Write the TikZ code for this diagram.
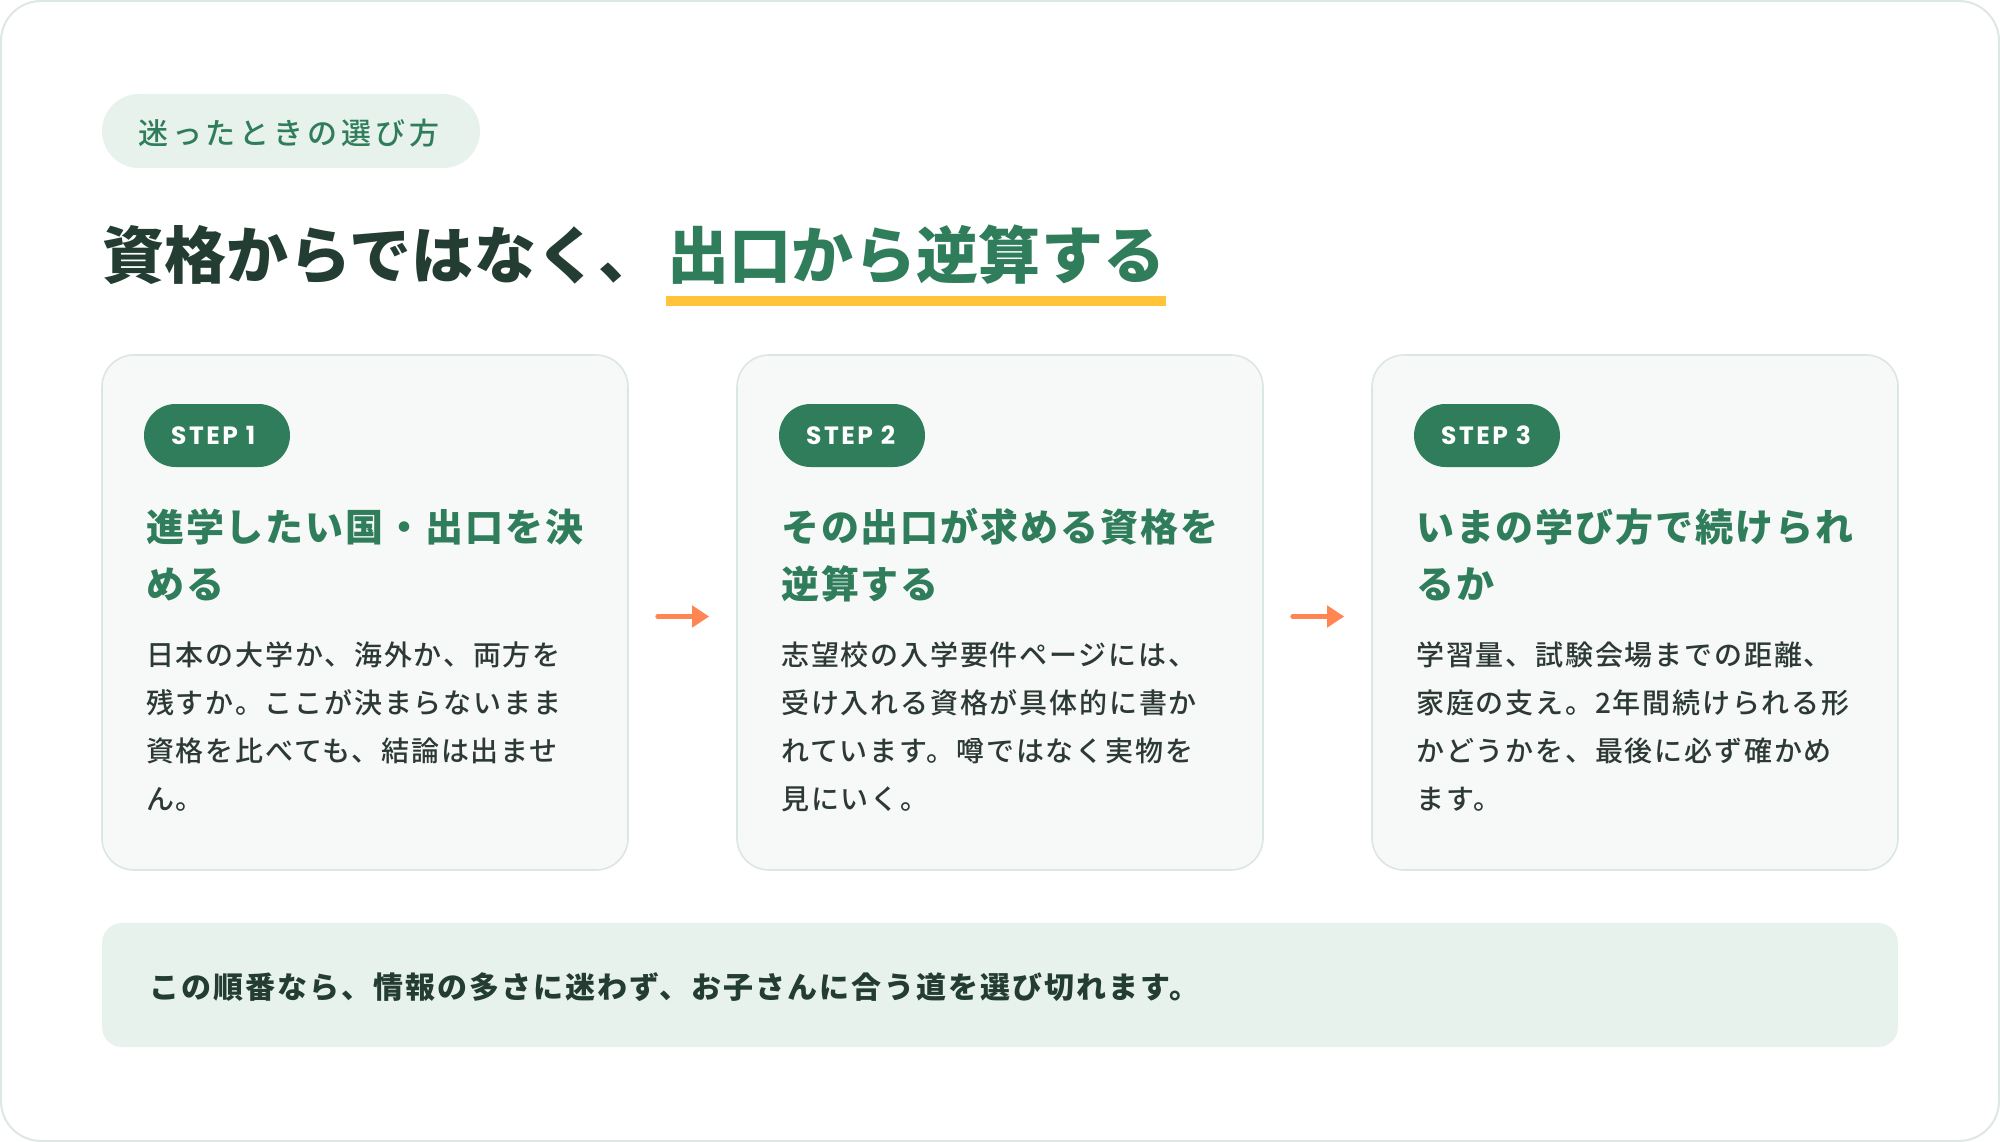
\documentclass[tikz,border=0pt]{standalone}
\usepackage{fontspec}
\usetikzlibrary{arrows.meta}
\setmainfont{Noto Sans CJK JP}
\newfontfamily\jpTag[LetterSpace=13]{Noto Sans CJK JP Medium}
\newfontfamily\jpTitle[LetterSpace=0.5]{Noto Sans CJK JP}
\newfontfamily\jpHead[LetterSpace=5]{Noto Sans CJK JP}
\newfontfamily\jpBody[LetterSpace=6.5]{Noto Sans CJK JP Medium}
\newfontfamily\jpBanner[LetterSpace=6.8]{Noto Sans CJK JP}
\newfontfamily\stepfont[LetterSpace=10]{Poppins}
\definecolor{frameline}{HTML}{DDE8E4}
\definecolor{paleg}{HTML}{E8F2EC}
\definecolor{maing}{HTML}{2F7D5B}
\definecolor{darkt}{HTML}{233D33}
\definecolor{bodyt}{HTML}{2D3A34}
\definecolor{hilite}{HTML}{FFC43A}
\definecolor{cardfill}{HTML}{F7F9F8}
\definecolor{cardline}{HTML}{DCE6E2}
\definecolor{arrowc}{HTML}{FF8552}
\tikzset{
  cardbox/.style={draw=cardline, line width=1.6pt, fill=cardfill, rounded corners=32pt,
    minimum width=526pt, minimum height=515pt, inner sep=0pt},
  steppill/.style={fill=maing, rounded corners=31.5pt, minimum width=146pt,
    minimum height=63pt, inner sep=0pt},
  steptext/.style={anchor=base west, inner sep=0pt, text=white,
    font=\stepfont\bfseries\fontsize{25}{25}\selectfont},
  headtext/.style={anchor=base west, inner sep=0pt, text=maing,
    font=\jpHead\bfseries\fontsize{38}{38}\selectfont},
  bodytext/.style={anchor=base west, inner sep=0pt, text=bodyt,
    font=\jpBody\fontsize{28}{28}\selectfont},
  flowarrow/.style={draw=arrowc, line width=5pt, line cap=round,
    -{Triangle[length=17pt,width=21pt]}, shorten <=29pt, shorten >=27pt}
}
\begin{document}
\begin{tikzpicture}[x=1pt,y=-1pt]
\useasboundingbox (0,0) rectangle (2000,1142);
\fill[white] (0,0) rectangle (2000,1142);
\draw[frameline, line width=2pt, rounded corners=40pt] (1,1) rectangle (1999,1141);

% tag
\node[fill=paleg, rounded corners=37pt, minimum width=378pt, minimum height=74pt, inner sep=0pt] (tag) at (291,131) {};
\node[anchor=base west, inner sep=0pt, text=maing, font=\jpTag\fontsize{30}{30}\selectfont] (tagtext) at (138,144.5) {迷ったときの選び方};

% title
\node[anchor=base west, inner sep=0pt, text=darkt, font=\jpTitle\bfseries\fontsize{62}{62}\selectfont] (title1) at (102,278) {資格からではなく、};
\fill[hilite] (666,296) rectangle (1166,306);
\node[anchor=base west, inner sep=0pt, text=maing, font=\jpTitle\bfseries\fontsize{62}{62}\selectfont] (title2) at (667,278) {出口から逆算する};

% cards
\node[cardbox] (c1) at (365,612.5) {};
\node[cardbox] (c2) at (1000,612.5) {};
\node[cardbox] (c3) at (1635,612.5) {};

% card 1
\node[steppill] (p1) at (217,435.5) {};
\node[steptext] (s1) at (171,444.5) {STEP 1};
\node[headtext] (h1a) at (146,541) {進学したい国・出口を決};
\node[headtext] (h1b) at (146,598) {める};
\node[bodytext] (b1a) at (146,665) {日本の大学か、海外か、両方を};
\node[bodytext] (b1b) at (146,713) {残すか。ここが決まらないまま};
\node[bodytext] (b1c) at (146,761) {資格を比べても、結論は出ませ};
\node[bodytext] (b1d) at (146,809) {ん。};

% card 2
\node[steppill] (p2) at (852,435.5) {};
\node[steptext] (s2) at (806,444.5) {STEP 2};
\node[headtext] (h2a) at (781,541) {その出口が求める資格を};
\node[headtext] (h2b) at (781,598) {逆算する};
\node[bodytext] (b2a) at (781,665) {志望校の入学要件ページには、};
\node[bodytext] (b2b) at (781,713) {受け入れる資格が具体的に書か};
\node[bodytext] (b2c) at (781,761) {れています。噂ではなく実物を};
\node[bodytext] (b2d) at (781,809) {見にいく。};

% card 3
\node[steppill] (p3) at (1487,435.5) {};
\node[steptext] (s3) at (1441,444.5) {STEP 3};
\node[headtext] (h3a) at (1416,541) {いまの学び方で続けられ};
\node[headtext] (h3b) at (1416,598) {るか};
\node[bodytext] (b3a) at (1416,665) {学習量、試験会場までの距離、};
\node[bodytext] (b3b) at (1416,713) {家庭の支え。2年間続けられる形};
\node[bodytext] (b3c) at (1416,761) {かどうかを、最後に必ず確かめ};
\node[bodytext] (b3d) at (1416,809) {ます。};

% arrows
\draw[flowarrow] ([yshift=-4pt]c1.east) -- ([yshift=-4pt]c2.west);
\draw[flowarrow] ([yshift=-4pt]c2.east) -- ([yshift=-4pt]c3.west);

% banner
\node[fill=paleg, rounded corners=20pt, minimum width=1796pt, minimum height=124pt, inner sep=0pt] (banner) at (1000,985) {};
\node[anchor=base west, inner sep=0pt, text=darkt, font=\jpBanner\bfseries\fontsize{30}{30}\selectfont] (bannertext) at (149,998) {この順番なら、情報の多さに迷わず、お子さんに合う道を選び切れます。};
\end{tikzpicture}
\end{document}
